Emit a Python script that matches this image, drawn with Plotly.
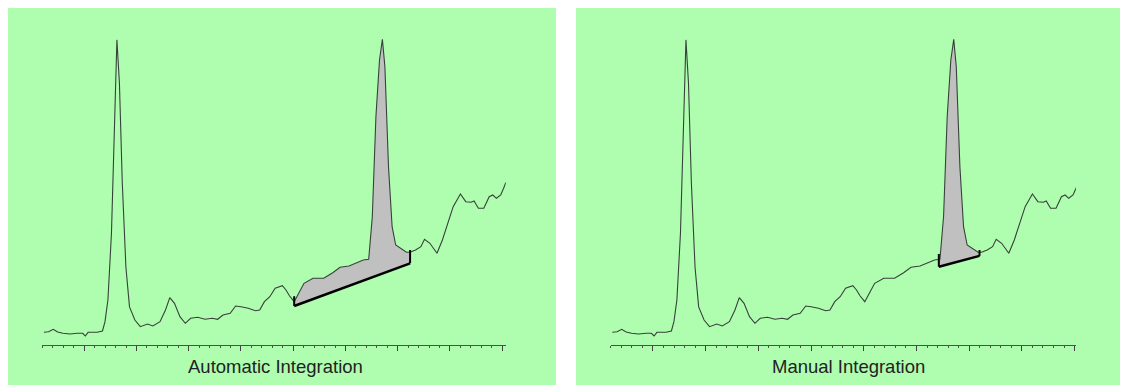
import numpy as np
import plotly.graph_objects as go

# Chromatogram (time in min, signal in arbitrary units)
time = [0.229, 0.319, 0.407, 0.491, 0.594, 0.730, 0.868, 0.971, 1.021, 1.075,
        1.247, 1.350, 1.398, 1.454, 1.522, 1.578, 1.626, 1.674, 1.729, 1.798,
        1.867, 1.970, 2.074, 2.211, 2.315, 2.451, 2.556, 2.638, 2.728, 2.832,
        2.935, 3.036, 3.174, 3.312, 3.450, 3.553, 3.656, 3.794, 3.898, 4.001,
        4.139, 4.277, 4.359, 4.449, 4.552, 4.655, 4.793, 4.862, 4.931, 5.019,
        5.103, 5.207, 5.379, 5.584, 5.756, 5.896, 6.068, 6.204, 6.342, 6.445,
        6.514, 6.583, 6.652, 6.707, 6.755, 6.824, 6.893, 6.962, 7.065, 7.168,
        7.237, 7.341, 7.444, 7.513, 7.616, 7.685, 7.752, 7.856, 7.959, 8.062,
        8.200, 8.303, 8.407, 8.462, 8.544, 8.648, 8.751, 8.820, 8.889, 8.971,
        9.027, 9.070]
signal = [4.23, 4.43, 5.23, 4.33, 3.90, 3.67, 3.90, 3.90, 3.00, 4.23,
          4.23, 4.67, 7.77, 15.0, 37.3, 70.7, 101.7, 87.3, 54.0, 26.0,
          12.7, 8.33, 6.10, 7.00, 6.33, 7.77, 11.67, 15.77, 13.9, 9.43,
          7.23, 8.90, 9.23, 8.57, 8.90, 8.57, 10.0, 10.57, 13.0, 12.77,
          12.23, 11.43, 11.67, 14.43, 16.1, 18.9, 19.77, 18.33, 16.33, 14.43,
          17.23, 20.57, 22.23, 22.23, 24.1, 25.9, 26.33, 27.23, 28.33, 28.57,
          42.77, 76.1, 95.0, 101.9, 92.77, 59.43, 39.43, 33.33, 32.23, 30.9,
          30.9, 31.67, 32.77, 35.23, 33.9, 32.23, 30.57, 35.0, 40.57, 46.1,
          50.33, 47.77, 47.57, 48.0, 45.57, 45.57, 49.43, 50.0, 48.9, 50.0,
          52.23, 54.2]

# Integration baselines: (start time, start level, end time, end level)
auto_base = [5.019, 13.0, 7.237, 27.23]
manual_base = [6.424, 26.1, 7.196, 29.7]
panel_titles = ["Automatic Integration", "Manual Integration"]

# page has an 8px body margin; figure is sized to fill the rest of the window
OFF = 8
W, H = 1128 - OFF, 385 - OFF
GREEN = "#AFFDAF"
LINE = "#36413a"

def fx(px):
    return (px - OFF) / W

def fy(py):
    return (H - (py - OFF)) / H

fig = go.Figure()
t = np.array(time)
s = np.array(signal)

def add_panel(base, xa, ya):
    t0, y0, t1, y1 = base
    s0 = float(np.interp(t0, t, s))
    s1 = float(np.interp(t1, t, s))
    m = (t > t0) & (t < t1)
    px = [t0] + list(t[m]) + [t1, t1, t0, t0]
    py = [s0] + list(s[m]) + [s1, y1, y0, s0]
    fig.add_trace(go.Scatter(x=px, y=py, fill="toself", fillcolor="#c0c0c0",
                             line=dict(width=0), mode="lines", xaxis=xa, yaxis=ya,
                             hoverinfo="skip", showlegend=False))
    fig.add_trace(go.Scatter(x=time, y=signal, mode="lines",
                             line=dict(color=LINE, width=1.1), xaxis=xa, yaxis=ya,
                             showlegend=False))
    fig.add_trace(go.Scatter(x=[t0, t1], y=[y0, y1], mode="lines",
                             line=dict(color="black", width=2.5), xaxis=xa, yaxis=ya,
                             showlegend=False))
    fig.add_trace(go.Scatter(x=[t0, t0, None, t1, t1],
                             y=[y0, s0 + 1.8, None, y1, s1 + 0.8], mode="lines",
                             line=dict(color="black", width=2), xaxis=xa, yaxis=ya,
                             showlegend=False))

add_panel(auto_base, "x", "y")
add_panel(manual_base, "x2", "y2")

xcommon = dict(showgrid=False, zeroline=False, showline=True, linecolor="#505050",
               linewidth=1, ticks="outside", tickvals=list(range(1, 10)), ticklen=5,
               tickcolor="#404040", tickwidth=1, showticklabels=False,
               minor=dict(ticks="outside", dtick=0.2, tick0=0.2, ticklen=2,
                          tickcolor="#505050", tickwidth=1))
ydom = [fy(345), fy(20)]
ycommon = dict(visible=False, range=[0, (345 - 20) / 3], domain=ydom)

fig.update_layout(
    width=W, height=H, margin=dict(l=0, r=0, t=0, b=0),
    paper_bgcolor="white", plot_bgcolor="rgba(0,0,0,0)",
    xaxis=dict(domain=[fx(42.4), fx(505.8)], range=[0.2, 9.069], anchor="y", **xcommon),
    yaxis=dict(anchor="x", **ycommon),
    xaxis2=dict(domain=[fx(610.8), fx(1075.9)], range=[0.2, 9.025], anchor="y2", **xcommon),
    yaxis2=dict(anchor="x2", **ycommon),
    shapes=[
        dict(type="rect", xref="paper", yref="paper", x0=0, x1=fx(556),
             y0=0, y1=1, fillcolor=GREEN, line=dict(width=0), layer="below"),
        dict(type="rect", xref="paper", yref="paper", x0=fx(576), x1=1,
             y0=0, y1=1, fillcolor=GREEN, line=dict(width=0), layer="below"),
    ],
    annotations=[
        dict(text=panel_titles[0], xref="paper", yref="paper", x=fx(275), y=fy(366.5),
             showarrow=False, xanchor="center", yanchor="middle",
             font=dict(family="Liberation Sans, Arial", size=18.5, color="#222222")),
        dict(text=panel_titles[1], xref="paper", yref="paper", x=fx(848), y=fy(366.5),
             showarrow=False, xanchor="center", yanchor="middle",
             font=dict(family="Liberation Sans, Arial", size=18.5, color="#222222")),
    ],
)

fig.write_html("out.html", config={"displayModeBar": False})
